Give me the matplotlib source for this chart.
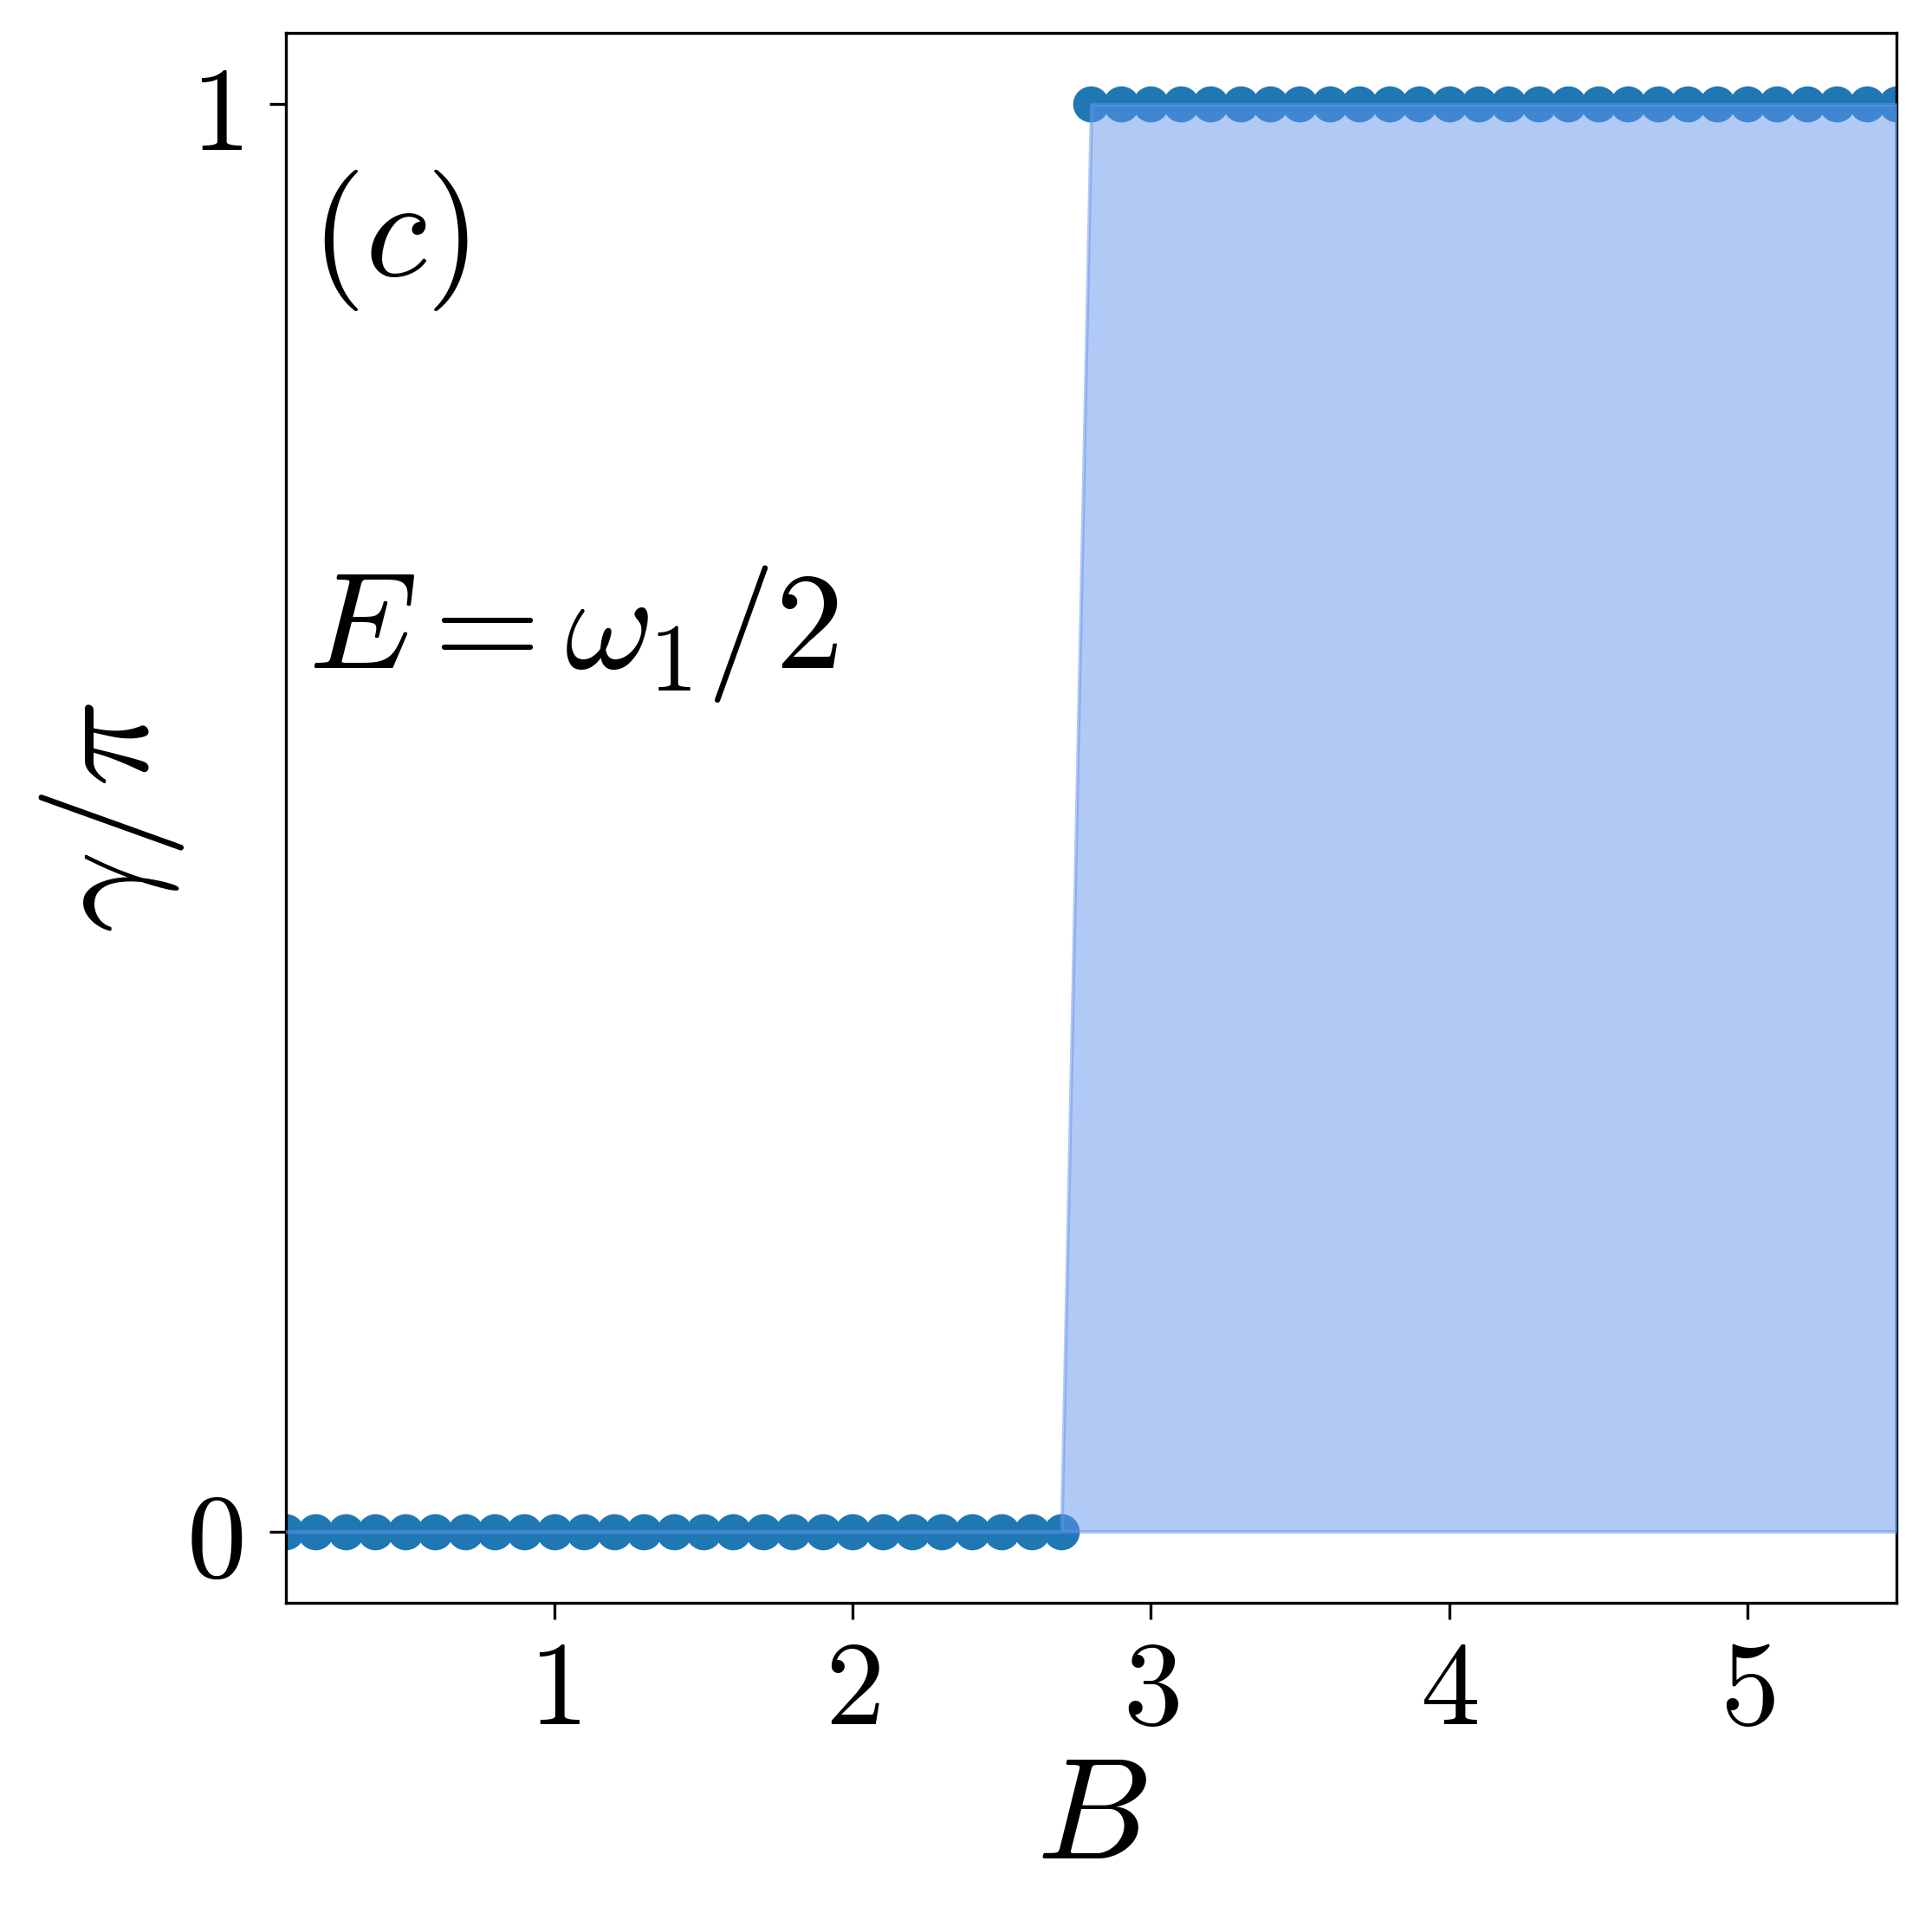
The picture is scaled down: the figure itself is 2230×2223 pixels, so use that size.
import numpy as np
import matplotlib
matplotlib.use("Agg")
import matplotlib.pyplot as plt

plt.rcParams['mathtext.fontset'] = 'cm'
plt.rcParams['font.family'] = ['DejaVu Serif']

B = [round(0.1 * i, 1) for i in range(1, 56)]
gamma_over_pi = [0]*27 + [1]*28
x_ticks = [1, 2, 3, 4, 5]
x_ticklabels = ['$1$', '$2$', '$3$', '$4$', '$5$']
y_ticks = [0, 1]
y_ticklabels = ['$0$', '$1$']

fig = plt.figure(figsize=(2230/300, 2223/300), dpi=300)
ax = fig.add_axes([330/2230, 1 - 1850/2223, (2189-330)/2230, (1850-38)/2223])

ax.plot(B, gamma_over_pi, 'o', color='#1f77b4', markersize=9, zorder=2)
ax.fill_between(B, 0, gamma_over_pi, color='cornflowerblue', alpha=0.5, linewidth=1.0, zorder=3)

ax.set_xlim(0.1, 5.5)
ax.set_ylim(-0.05, 1.05)
ax.set_xticks(x_ticks)
ax.set_xticklabels(x_ticklabels)
ax.set_yticks(y_ticks)
ax.set_yticklabels(y_ticklabels)
ax.tick_params(labelsize=33, length=4.5, width=0.8)
ax.tick_params(axis='y', pad=7.5)
ax.tick_params(axis='x', pad=4)
ax.set_xlabel('$B$', fontsize=40, labelpad=0)
ax.set_ylabel(r'$\gamma/\pi$', fontsize=40, labelpad=0)

ax.text(0.015, 0.868, '$(c)$', transform=ax.transAxes, fontsize=39, va='center', ha='left')
ax.text(0.014, 0.617, r'$E=\omega_1/2$', transform=ax.transAxes, fontsize=38, va='center', ha='left')

fig.savefig('out.png', dpi=300)
